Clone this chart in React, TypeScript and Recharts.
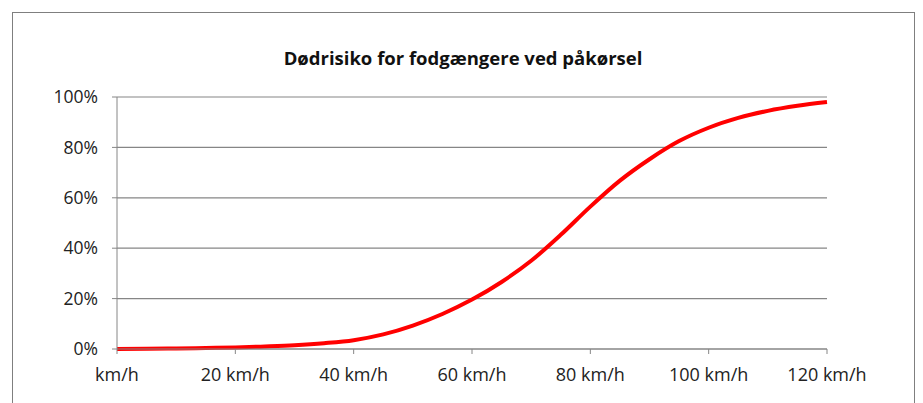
import { LineChart, Line, XAxis, YAxis, CartesianGrid } from "recharts";

// speed in km/h, risk of death in %
const speeds = [0, 5, 10, 15, 20, 25, 30, 35, 40, 45, 50, 55, 60, 65, 70, 75, 80, 85, 90, 95, 100, 105, 110, 115, 120];
const risk = [0, 0.1, 0.2, 0.4, 0.6, 1.0, 1.5, 2.3, 3.5, 5.8, 9.3, 13.9, 19.6, 26.6, 35, 45.3, 56.5, 66.8, 75.3, 82.5, 87.8, 91.7, 94.5, 96.5, 98];

const xTicks = [0, 20, 40, 60, 80, 100, 120];
const yTicks = [0, 20, 40, 60, 80, 100];

const title = "Dødrisiko for fodgængere ved påkørsel";

const data = speeds.map((s, i) => ({ speed: s, risk: risk[i] }));

const font = "'Open Sans', sans-serif";
const axisGray = "#868686";

export default function App() {
  return (
    <div style={{ position: "absolute", left: 0, top: 0, width: 923, height: 403, background: "#fff", overflow: "hidden" }}>
      {/* outer frame */}
      <div
        style={{
          position: "absolute",
          left: 12,
          top: 12,
          width: 903,
          height: 420,
          border: "1px solid #7f7f7f",
          boxSizing: "border-box",
        }}
      />
      <div
        style={{
          position: "absolute",
          left: 0,
          width: 926,
          top: 45,
          textAlign: "center",
          fontFamily: font,
          fontWeight: "bold",
          fontSize: 18.5,
          color: "#111",
        }}
      >
        {title}
      </div>
      <LineChart
        width={923}
        height={403}
        data={data}
        margin={{ top: 97, right: 96, left: 57, bottom: 24 }}
        style={{ position: "absolute", left: 0, top: 0 }}
      >
        <CartesianGrid vertical={false} stroke={axisGray} strokeWidth={1.2} />
        <XAxis
          dataKey="speed"
          type="number"
          domain={[0, 120]}
          ticks={xTicks}
          tickFormatter={(v: number) => (v === 0 ? "km/h" : `${v} km/h`)}
          height={30}
          tickSize={5}
          tickMargin={14}
          stroke={axisGray}
          tick={{ fill: "#222", fontSize: 18, fontFamily: font }}
        />
        <YAxis
          type="number"
          domain={[0, 100]}
          ticks={yTicks}
          tickFormatter={(v: number) => `${v}%`}
          width={60}
          tickSize={5}
          tickMargin={14}
          stroke={axisGray}
          tick={{ fill: "#222", fontSize: 17.5, fontFamily: font }}
        />
        <Line
          type="monotone"
          dataKey="risk"
          stroke="#ff0000"
          strokeWidth={4}
          dot={false}
          isAnimationActive={false}
        />
      </LineChart>
    </div>
  );
}
